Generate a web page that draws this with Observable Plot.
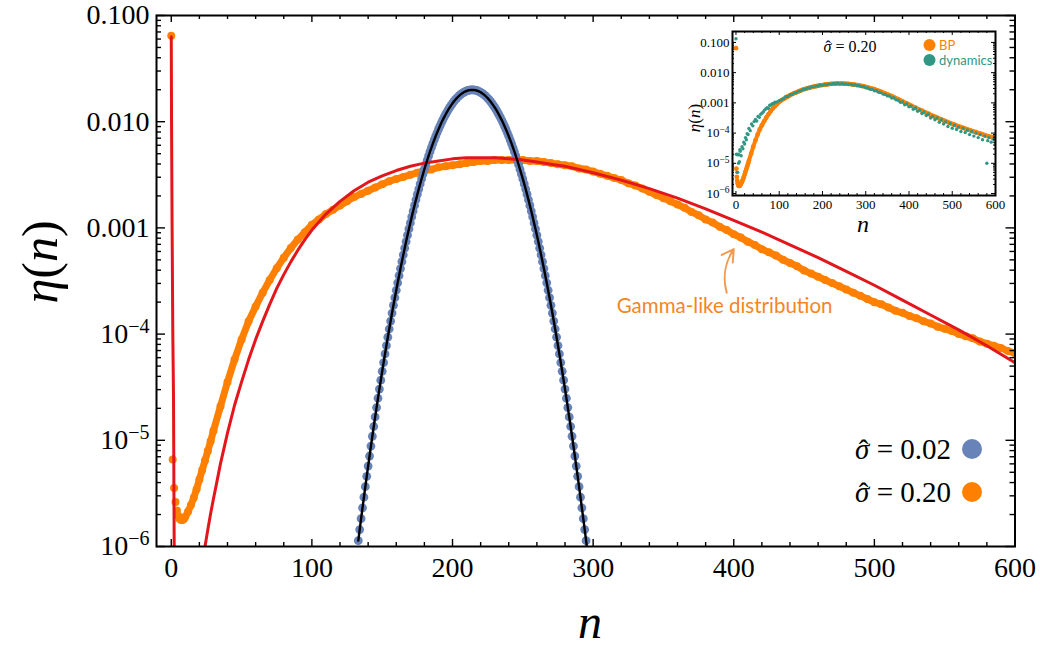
<!DOCTYPE html>
<html><head><meta charset="utf-8">
<script src="https://cdn.jsdelivr.net/npm/d3@7"></script>
<script src="https://cdn.jsdelivr.net/npm/@observablehq/plot@0.6"></script>
<style>
body{margin:0;background:#fff;}
#wrap{position:relative;width:1040px;height:651px;overflow:hidden;}
#wrap svg{position:absolute;}
</style></head><body><div id="wrap"></div>
<script>
// ---------------- data (log10 of eta(n)) ----------------
const xMajor = [0, 100, 200, 300, 400, 500, 600];
const yMajor = [1e-6, 1e-5, 1e-4, 1e-3, 1e-2, 1e-1];

// sigma = 0.02 (blue dots), one value per n starting at n = 133
const blueStart = 133;
const blueLog = [-5.945,-5.841,-5.738,-5.636,-5.536,-5.437,-5.339,-5.243,-5.148,-5.054,-4.962,-4.870,-4.780,-4.692,-4.604,-4.518,-4.434,-4.350,-4.268,-4.187,-4.108,-4.029,-3.952,-3.877,-3.802,-3.729,-3.657,-3.587,-3.517,-3.450,-3.383,-3.318,-3.254,-3.191,-3.129,-3.069,-3.010,-2.953,-2.896,-2.841,-2.788,-2.735,-2.684,-2.634,-2.586,-2.539,-2.493,-2.448,-2.405,-2.363,-2.322,-2.282,-2.244,-2.207,-2.172,-2.137,-2.104,-2.073,-2.042,-2.013,-1.985,-1.959,-1.934,-1.910,-1.887,-1.866,-1.846,-1.827,-1.809,-1.793,-1.778,-1.765,-1.752,-1.741,-1.732,-1.723,-1.716,-1.710,-1.706,-1.703,-1.701,
 -1.700,
 -1.701,-1.703,-1.706,-1.710,-1.716,-1.723,-1.732,-1.741,-1.752,-1.765,-1.778,-1.793,-1.809,-1.827,-1.846,-1.866,-1.887,-1.910,-1.934,-1.959,-1.985,-2.013,-2.042,-2.073,-2.104,-2.137,-2.172,-2.207,-2.244,-2.282,-2.322,-2.363,-2.405,-2.448,-2.493,-2.539,-2.586,-2.634,-2.684,-2.735,-2.788,-2.841,-2.896,-2.953,-3.010,-3.069,-3.129,-3.191,-3.254,-3.318,-3.383,-3.450,-3.517,-3.587,-3.657,-3.729,-3.802,-3.877,-3.952,-4.029,-4.108,-4.187,-4.268,-4.350,-4.434,-4.518,-4.604,-4.692,-4.780,-4.870,-4.962,-5.054,-5.148,-5.243,-5.339,-5.437,-5.536,-5.636,-5.738,-5.841,-5.945,-6.050];

// sigma = 0.20 (orange dots, "BP")
const orangeN = [0,1,2,3,4,5,6,7,8,9,10,12,14,16,18,20,22,24,26,28,30,
 35,40,45,50,55,60,65,70,75,80,85,90,95,100,
 105,110,115,120,125,130,135,140,145,150,155,160,165,170,175,180,185,190,195,200,
 205,210,215,220,225,230,235,240,245,250,255,260,265,270,275,280,285,290,295,300,
 305,310,315,320,325,330,335,340,345,350,355,360,365,370,375,380,385,390,395,400,
 405,410,415,420,425,430,435,440,445,450,455,460,465,470,475,480,485,490,495,500,
 505,510,515,520,525,530,535,540,545,550,555,560,565,570,575,580,585,590,595,600];
const orangeLog = [-1.19,-5.18,-5.45,-5.58,-5.66,-5.71,-5.74,-5.75,-5.75,-5.74,-5.72,-5.67,-5.61,-5.54,-5.46,-5.37,-5.28,-5.19,-5.10,-5.01,-4.91,
 -4.68,-4.45,-4.24,-4.05,-3.88,-3.74,-3.61,-3.49,-3.38,-3.28,-3.19,-3.11,-3.04,-2.97,
 -2.92,-2.87,-2.83,-2.79,-2.75,-2.71,-2.68,-2.65,-2.62,-2.59,-2.56,-2.54,-2.52,-2.50,-2.48,-2.46,-2.45,-2.43,-2.42,-2.41,
 -2.40,-2.39,-2.38,-2.37,-2.37,-2.36,-2.36,-2.36,-2.36,-2.36,-2.37,-2.37,-2.38,-2.39,-2.40,-2.41,-2.42,-2.44,-2.45,-2.47,
 -2.49,-2.51,-2.53,-2.55,-2.58,-2.60,-2.63,-2.66,-2.69,-2.72,-2.75,-2.78,-2.81,-2.85,-2.88,-2.92,-2.95,-2.99,-3.02,-3.06,
 -3.09,-3.13,-3.16,-3.20,-3.23,-3.26,-3.30,-3.33,-3.36,-3.40,-3.43,-3.46,-3.49,-3.52,-3.55,-3.58,-3.61,-3.64,-3.67,-3.70,
 -3.72,-3.75,-3.78,-3.80,-3.83,-3.85,-3.88,-3.90,-3.93,-3.95,-3.97,-4.00,-4.02,-4.04,-4.07,-4.09,-4.11,-4.13,-4.16,-4.18];

// red Gamma-like fit: spike at n = 0 and the broad part
const redSpikeN = [0, 0.2, 0.6, 1.1, 1.6, 2.1];
const redSpikeLog = [-1.20, -2.0, -3.0, -4.0, -4.6, -6.05];
const redN = [24,26,28,30,32,35,40,45,50,55,60,65,70,75,80,85,90,95,100,
 110,120,130,140,150,160,170,180,190,200,210,220,230,240,250,260,270,280,290,300,
 320,340,360,380,400,420,440,460,480,500,520,540,560,580,600];
const redLog = [-6.00,-5.84,-5.69,-5.55,-5.42,-5.22,-4.93,-4.67,-4.45,-4.24,-4.05,-3.88,-3.72,-3.57,-3.44,-3.32,-3.21,-3.11,-3.02,
 -2.87,-2.75,-2.65,-2.57,-2.51,-2.46,-2.42,-2.39,-2.37,-2.35,-2.34,-2.34,-2.34,-2.35,-2.36,-2.38,-2.40,-2.42,-2.45,-2.48,
 -2.55,-2.63,-2.72,-2.82,-2.93,-3.04,-3.16,-3.28,-3.41,-3.54,-3.68,-3.82,-3.96,-4.11,-4.27];

// inset: "dynamics" (teal)
const tealN = [0,1,2,3,4,5,6,7,8,9,10,12,14,16,18,20,22,24,26,28,30,33,36,39,42,45,48,51,54,57,60,63,66,69,72,75,78,81,84,87,90,95,100,
 105,110,115,120,125,130,135,140,145,150,155,160,165,170,175,180,185,190,195,200,
 205,210,215,220,225,230,235,240,245,250,255,260,265,270,275,280,285,290,295,300,
 305,310,315,320,325,330,335,340,345,350,355,360,365,370,375,380,385,390,395,400,
 405,410,415,420,425,430,435,440,445,450,455,460,465,470,475,480,485,490,495,500,
 505,510,515,520,525,530,535,540,545,550,555,560,565,570,575,580,582,585,590,595,600];
const tealLog = [-0.88,-4.70,-5.30,-4.72,-5.30,-4.70,-5.00,-4.72,-4.95,-4.55,-4.60,-4.75,-4.45,-4.52,-4.30,-4.36,-4.15,-4.22,-4.02,-4.05,-3.85,-3.92,-3.70,-3.76,-3.62,-3.55,-3.60,-3.45,-3.48,-3.38,-3.34,-3.30,-3.24,-3.20,-3.16,-3.18,-3.08,-3.07,-3.03,-3.02,-2.98,-2.97,-2.93,
 -2.90,-2.86,-2.80,-2.79,-2.73,-2.72,-2.67,-2.66,-2.61,-2.60,-2.55,-2.55,-2.51,-2.51,-2.47,-2.47,-2.44,-2.44,-2.41,-2.42,
 -2.39,-2.40,-2.37,-2.38,-2.36,-2.37,-2.35,-2.37,-2.36,-2.38,-2.37,-2.39,-2.38,-2.41,-2.40,-2.43,-2.43,-2.46,-2.46,-2.50,
 -2.51,-2.55,-2.55,-2.60,-2.60,-2.65,-2.66,-2.71,-2.72,-2.77,-2.77,-2.84,-2.83,-2.90,-2.91,-2.98,-2.97,-3.06,-3.03,-3.13,
 -3.10,-3.21,-3.17,-3.28,-3.24,-3.35,-3.30,-3.42,-3.37,-3.50,-3.45,-3.56,-3.50,-3.64,-3.56,-3.70,-3.62,-3.78,-3.68,-3.84,
 -3.74,-3.88,-3.80,-3.95,-3.84,-3.98,-3.90,-4.05,-3.95,-4.10,-4.00,-4.15,-4.05,-4.22,-4.10,-5.00,-4.25,-4.15,-4.30,-4.20,-4.35];

const annotation = [{label: "Gamma-like distribution", n: 393.5, v: 10 ** -3.736, n1: 395, v1: 10 ** -3.61, n2: 400, v2: 10 ** -3.20}];

// ---------------- styles ----------------
const ORANGE = "#ff8000", BLUE = "#6783b8", RED = "#e3161b", TEAL = "#2f9784", ANNOT = "#f5861f";
const SERIF = "'Liberation Serif', 'Times New Roman', Tinos, serif";
const SANS = "Lato, 'Open Sans', sans-serif";

const blue = blueLog.map((l, i) => ({n: blueStart + i, v: 10 ** l}));
const orange = orangeN.map((n, i) => ({n, v: 10 ** orangeLog[i]}));
const redSpike = redSpikeN.map((n, i) => ({n, v: 10 ** redSpikeLog[i]}));
const red = redN.map((n, i) => ({n, v: 10 ** redLog[i]}));
const teal = tealN.map((n, i) => ({n, v: 10 ** tealLog[i]}));

const xMinor = d3.range(0, 601, 20).filter(v => v % 100 !== 0);
const yMinor = [];
for (let e = -6; e <= -2; e++) for (let k = 2; k <= 9; k++) yMinor.push(k * 10 ** e);

const fmtY = v => v >= 1e-3 ? v.toFixed(3) : "10^−" + Math.round(-Math.log10(v));

function tickMarks(W, H, xl, xs, yl, ys, sw) {
  const o = {stroke: "black", strokeWidth: sw};
  return [
    Plot.ruleX(xMajor, {...o, insetTop: H - xl}), Plot.ruleX(xMajor, {...o, insetBottom: H - xl}),
    Plot.ruleX(xMinor, {...o, insetTop: H - xs}), Plot.ruleX(xMinor, {...o, insetBottom: H - xs}),
    Plot.ruleY(yMajor, {...o, insetRight: W - yl}), Plot.ruleY(yMajor, {...o, insetLeft: W - yl}),
    Plot.ruleY(yMinor, {...o, insetRight: W - ys}), Plot.ruleY(yMinor, {...o, insetLeft: W - ys})
  ];
}
function patchSup(svg, size, dy) {
  d3.select(svg).selectAll("text").each(function () {
    const m = this.textContent.match(/^10\^(.+)$/);
    if (m) {
      const t = d3.select(this);
      t.text("10");
      t.append("tspan").attr("dy", dy).attr("font-size", size).text(m[1]);
    }
  });
}
// force a font family on every text of an svg (inline style wins over any stylesheet)
function setFont(svg, fam) {
  d3.select(svg).selectAll("text").each(function () {
    if (!this.classList.contains("sans")) this.style.fontFamily = fam;
  });
}
// sigma with a hat drawn above it
function sigmaLabel(sel, x, y, size, rest, anchor) {
  const t = sel.append("text").attr("x", x).attr("y", y).attr("text-anchor", anchor).attr("font-size", size)
    .style("font-family", SERIF);
  const s = t.append("tspan").attr("font-style", "italic").text("σ");
  t.append("tspan").text(" = " + rest);
  const n = s.node();
  const a = n.getStartPositionOfChar(0).x, b = n.getEndPositionOfChar(0).x;
  sel.append("text").attr("x", (a + b) / 2 + size * 0.05).attr("y", y + size * 0.02).attr("text-anchor", "middle")
    .attr("font-size", size).style("font-family", SERIF).text("ˆ");
}

const wrap = document.getElementById("wrap");

// ---------------- main chart ----------------
const mL = 156, mR = 25.5, mT = 15, mB = 105, Wd = 1040, Ht = 651;
const PW = Wd - mL - mR, PH = Ht - mT - mB;
const main = Plot.plot({
  width: Wd, height: Ht, marginLeft: mL, marginRight: mR, marginTop: mT, marginBottom: mB,
  style: {fontSize: "28px", fontFamily: SERIF, background: "transparent", color: "black"},
  x: {domain: [-10.5, 600]},
  y: {type: "log", domain: [1e-6, 0.1]},
  marks: [
    Plot.line(orange.filter(d => d.n >= 6), {x: "n", y: "v", stroke: ORANGE, strokeWidth: 7, clip: true}),
    Plot.dot(orange, {x: "n", y: "v", r: 4, fill: ORANGE, clip: true}),
    Plot.dot(blue, {x: "n", y: "v", r: 4.4, fill: BLUE, clip: true}),
    Plot.line(redSpike, {x: "n", y: "v", stroke: RED, strokeWidth: 3, clip: true}),
    Plot.line(red, {x: "n", y: "v", stroke: RED, strokeWidth: 3, clip: true}),
    Plot.line(blue, {x: "n", y: "v", stroke: "black", strokeWidth: 2.4, clip: true}),
    Plot.arrow(annotation, {x1: "n1", y1: "v1", x2: "n2", y2: "v2", bend: 25, stroke: "#f39a50", strokeWidth: 2, headLength: 10}),
    Plot.text(annotation, {x: "n", y: "v", text: "label", fill: ANNOT, fontSize: 20.5, fontFamily: SANS, className: "sans"}),
    ...tickMarks(PW, PH, 7, 4, 9, 5, 1.4),
    Plot.frame({stroke: "black", strokeWidth: 2}),
    Plot.axisX({ticks: xMajor, tickSize: 0, tickPadding: 11, label: null, tickFormat: d => String(d)}),
    Plot.axisY({ticks: yMajor, tickSize: 0, tickPadding: 7, label: null, tickFormat: fmtY})
  ]
});
patchSup(main, "20px", "-0.5em");
main.style.left = "0px"; main.style.top = "0px";
wrap.appendChild(main);
d3.select(main).selectAll("g[aria-label='text'] text").classed("sans", true).style("font-family", SANS);
setFont(main, SERIF);

const ms = d3.select(main);
// axis titles
const yt = ms.append("text").attr("transform", "translate(57,262) rotate(-90)").attr("text-anchor", "middle")
  .attr("font-size", 50).style("font-family", SERIF);
yt.append("tspan").attr("font-style", "italic").text("η");
yt.append("tspan").text("(");
yt.append("tspan").attr("font-style", "italic").text("n");
yt.append("tspan").text(")");
ms.append("text").attr("x", 590).attr("y", 638).attr("text-anchor", "middle").style("font-family", SERIF)
  .attr("font-style", "italic").attr("font-size", 48).text("n");
// legend
const legend = [{t: "0.02", c: BLUE, y: 449}, {t: "0.20", c: ORANGE, y: 492}];
legend.forEach(d => {
  sigmaLabel(ms, 951, d.y + 10, 29, d.t, "end");
  ms.append("circle").attr("cx", 972).attr("cy", d.y).attr("r", 10).attr("fill", d.c);
});

// ---------------- inset ----------------
const iW = 340, iH = 220, iL = 52, iR = 25, iT = 11, iB = 45;
const IPW = iW - iL - iR, IPH = iH - iT - iB;
const inset = Plot.plot({
  width: iW, height: iH, marginLeft: iL, marginRight: iR, marginTop: iT, marginBottom: iB,
  style: {fontSize: "13px", fontFamily: SERIF, background: "transparent", color: "black"},
  x: {domain: [-8, 600]},
  y: {type: "log", domain: [0.86e-6, 0.23]},
  marks: [
    Plot.frame({fill: "white"}),
    Plot.line(orange.filter(d => d.n >= 6), {x: "n", y: "v", stroke: ORANGE, strokeWidth: 4, clip: true}),
    Plot.dot(orange, {x: "n", y: "v", r: 2.4, fill: ORANGE, clip: true}),
    Plot.dot(teal, {x: "n", y: "v", r: 1.7, fill: TEAL, clip: true}),
    ...tickMarks(IPW, IPH, 4, 2, 4, 2, 1),
    Plot.frame({stroke: "black", strokeWidth: 2}),
    Plot.axisX({ticks: xMajor, tickSize: 0, tickPadding: 4, label: null, tickFormat: d => String(d)}),
    Plot.axisY({ticks: yMajor, tickSize: 0, tickPadding: 3, label: null, tickFormat: fmtY})
  ]
});
patchSup(inset, "9.5px", "-0.5em");
inset.style.left = "680px"; inset.style.top = "20px";
wrap.appendChild(inset);
setFont(inset, SERIF);
const is = d3.select(inset);
const iyt = is.append("text").attr("transform", "translate(20,98) rotate(-90)").attr("text-anchor", "middle")
  .attr("font-size", 17).style("font-family", SERIF);
iyt.append("tspan").attr("font-style", "italic").text("η");
iyt.append("tspan").text("(");
iyt.append("tspan").attr("font-style", "italic").text("n");
iyt.append("tspan").text(")");
is.append("text").attr("x", 183).attr("y", 212).attr("text-anchor", "middle").style("font-family", SERIF)
  .attr("font-style", "italic").attr("font-size", 24).text("n");
sigmaLabel(is, 170, 32, 16, "0.20", "middle");
[{t: "BP", c: ORANGE, y: 25}, {t: "dynamics", c: TEAL, y: 40}].forEach(d => {
  is.append("circle").attr("cx", 249.5).attr("cy", d.y).attr("r", 6).attr("fill", d.c);
  is.append("text").attr("class", "sans").attr("x", 259).attr("y", d.y + 4.5).attr("text-anchor", "start")
    .style("font-family", SANS).attr("font-size", 13).attr("fill", d.c).text(d.t);
});
</script></body></html>
